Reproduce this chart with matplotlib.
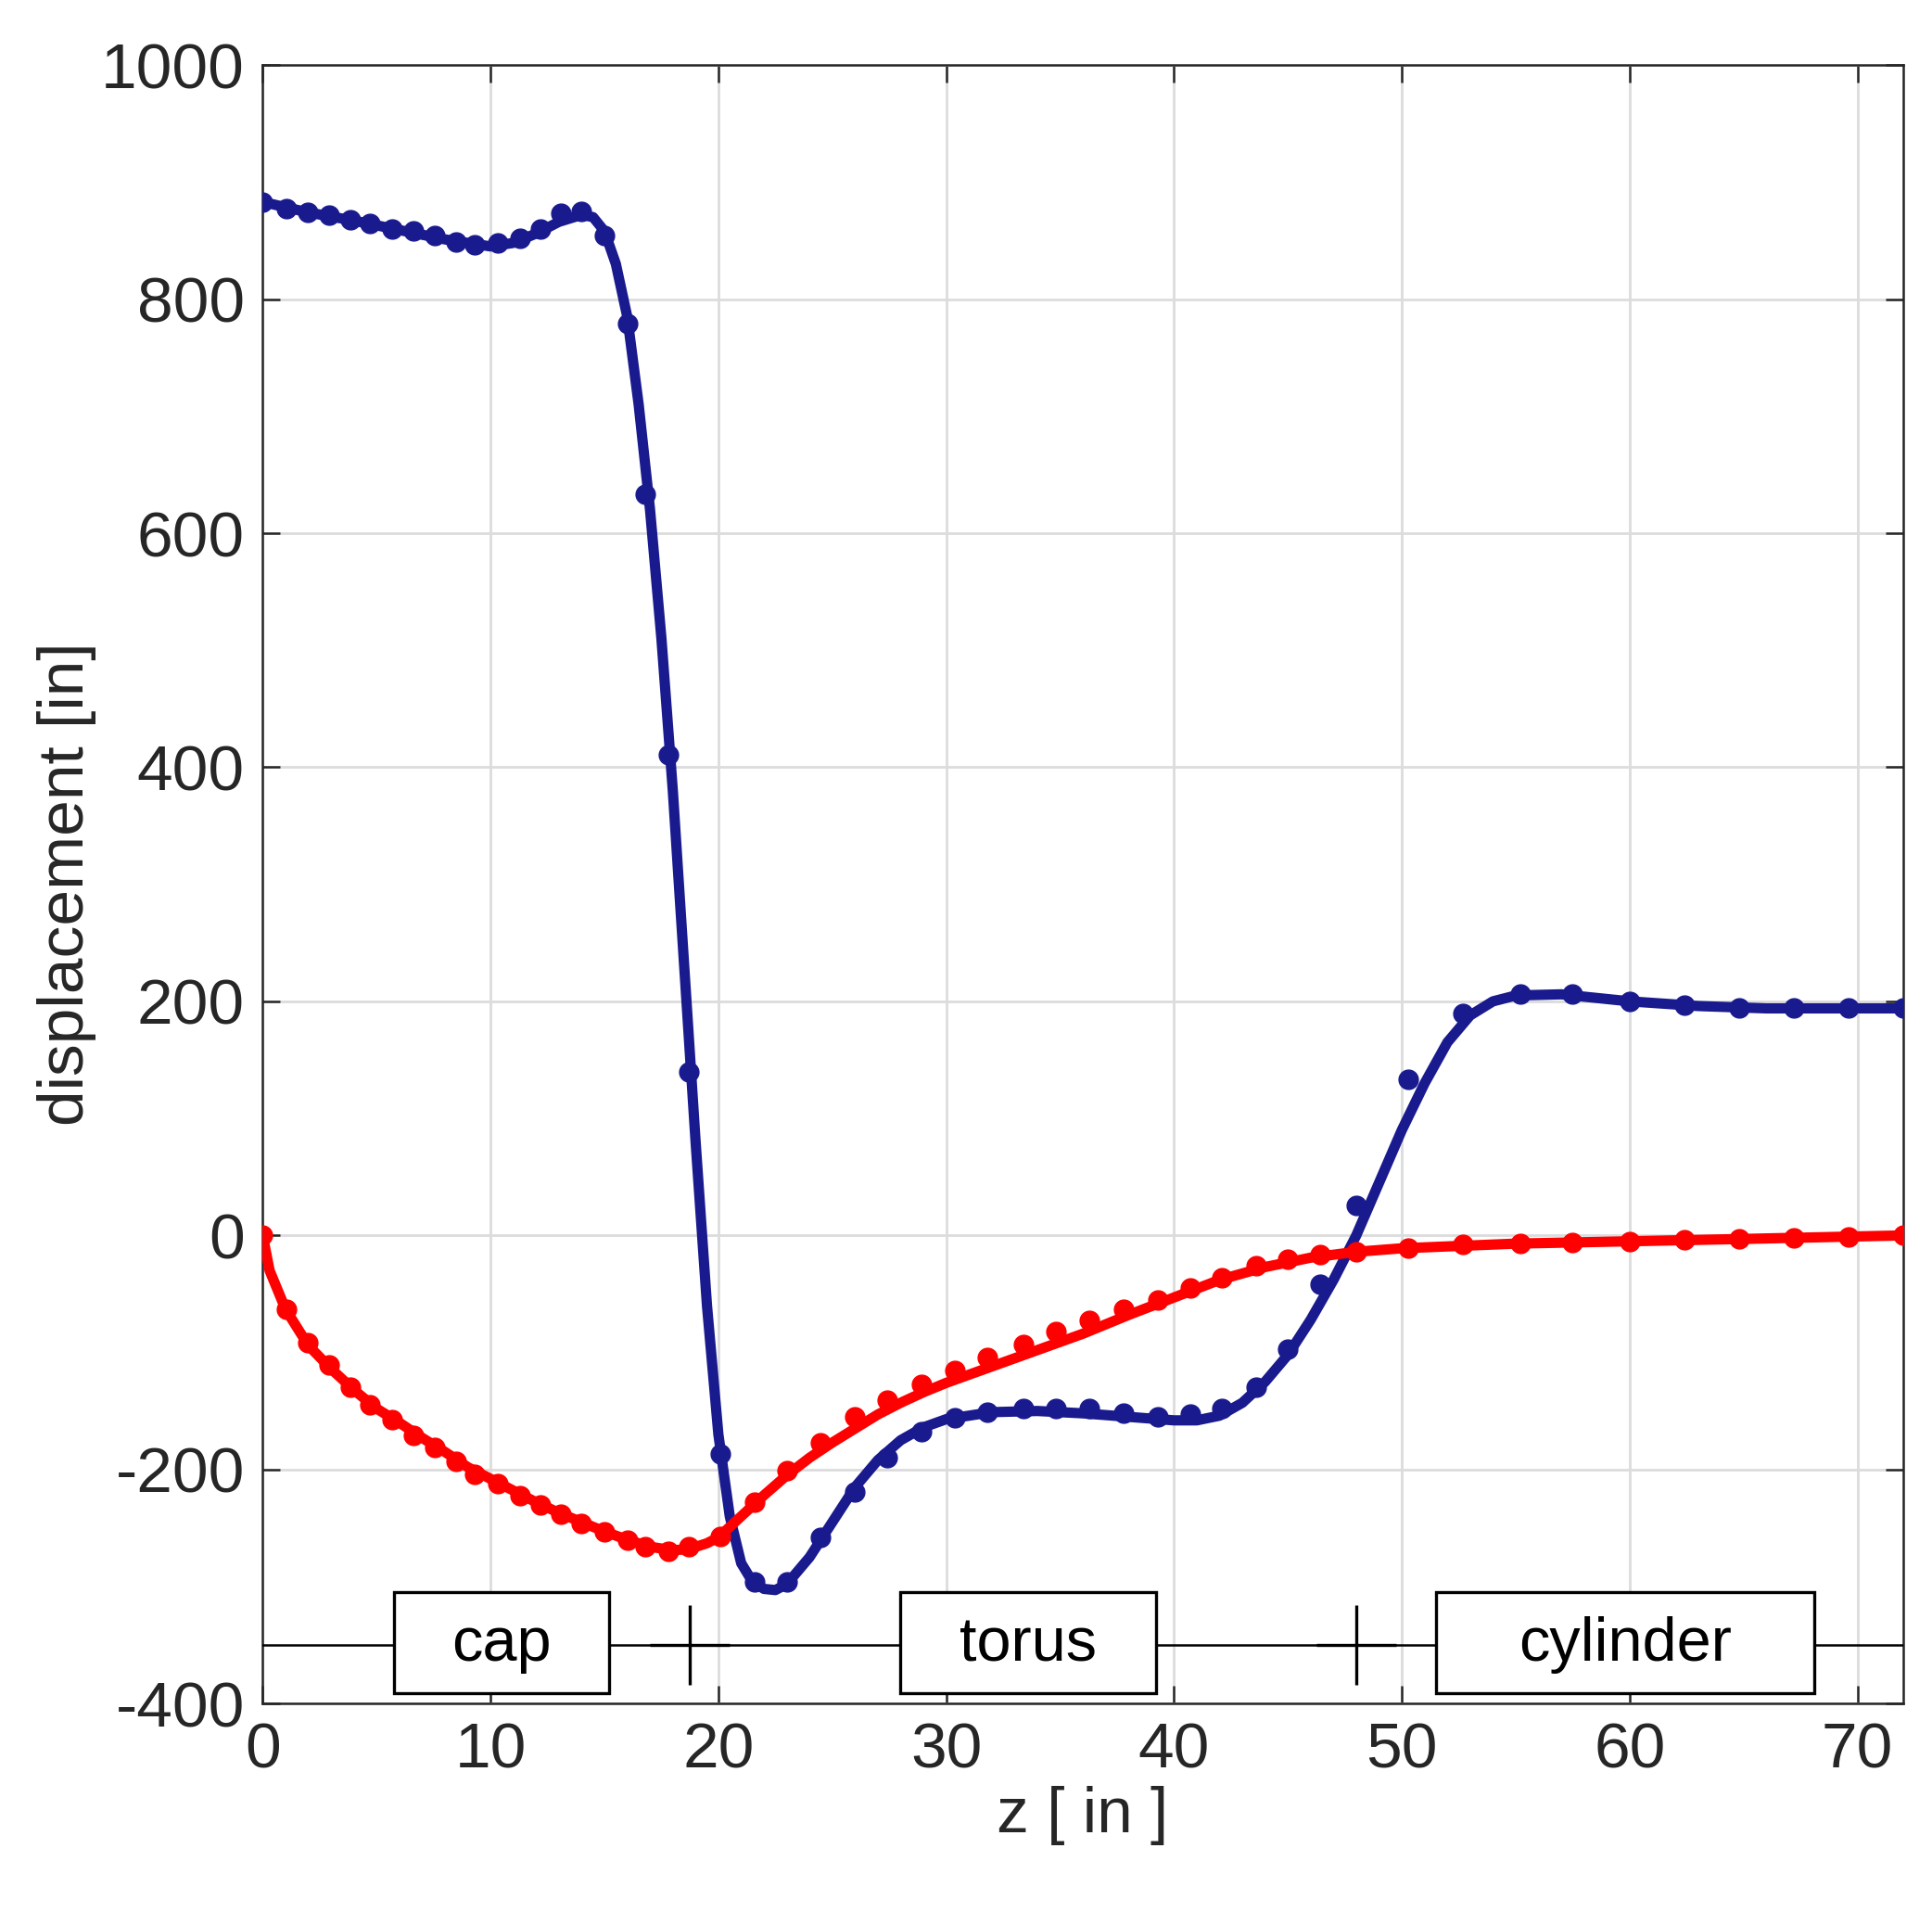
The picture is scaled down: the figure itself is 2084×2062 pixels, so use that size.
import matplotlib.pyplot as plt
import numpy as np

plt.rcParams['font.family'] = ['Liberation Sans', 'DejaVu Sans']
plt.rcParams['axes.unicode_minus'] = False

# blue series: measured dots
blue_dot_z = [0, 1.03, 1.96, 2.9, 3.86, 4.7, 5.7, 6.6, 7.55, 8.5, 9.3, 10.3, 11.3, 12.2, 13.1, 14, 15, 16, 16.8,
              17.8, 18.7, 20.1, 21.6, 23, 24.5, 26, 27.4, 28.9, 30.4, 31.8, 33.4, 34.8, 36.3, 37.8, 39.3, 40.7, 42.1,
              43.6, 45, 46.4, 48, 50.3, 52.7, 55.2, 57.5, 60, 62.4, 64.8, 67.2, 69.6, 72]
blue_dot_u = [883, 877, 874, 872, 868, 865, 860, 858, 854, 849, 846, 848, 852, 860, 873, 875, 854, 779, 633,
              411, 140, -187, -296, -296, -258, -219, -190, -168, -156, -151, -148, -148, -148, -152, -155, -153, -148,
              -130, -97, -42, 26, 133, 190, 206, 206, 200, 197, 194, 194, 194, 194]
# blue series: solid curve
blue_line_z = [0, 2, 4, 6, 8, 10, 11, 12, 13, 14, 14.5, 15, 15.5, 16, 16.5, 17, 17.5, 18, 18.5, 19, 19.5, 20, 20.5,
               21, 21.5, 22, 22.5, 23, 24, 25, 26, 27, 28, 29, 30, 32, 34, 36, 38, 40, 41, 42, 43, 44, 45, 46, 47,
               48, 49, 50, 51, 52, 53, 54, 55, 57, 60, 63, 66, 72]
blue_line_u = [883, 874, 867, 859, 851, 845, 848, 856, 866, 872, 870, 858, 830, 785, 710, 620, 510, 380, 230, 80, -60,
               -170, -240, -280, -296, -302, -303, -298, -275, -245, -215, -192, -175, -164, -157, -151, -150, -152,
               -155, -158, -158, -154, -143, -125, -102, -72, -38, 0, 45, 90, 130, 165, 188, 200, 205, 206, 200, 196,
               194, 194]

# red series
red_dot_z = blue_dot_z
red_dot_u = [0, -63, -92, -111, -130, -145, -157, -171, -181, -193, -204, -212, -222, -230, -238, -246, -253, -260,
             -266, -270, -266, -257, -228, -201, -177, -155, -141, -127, -115, -104, -93, -82, -73, -63, -55, -45, -36,
             -26, -20, -16, -14, -11, -8, -7, -6, -5, -4, -3, -2, -1, 0]
red_line_z = [0, 0.3, 1, 2, 3, 4, 5, 6, 7, 8, 9, 10, 11, 12, 13, 14, 15, 16, 17, 18, 18.7, 19.5, 20, 21, 22, 23, 24,
              25, 26, 27, 28, 29, 30, 32, 34, 36, 38, 40, 42, 44, 46, 48, 50, 55, 60, 65, 72]
red_line_u = [0, -30, -63, -94, -114, -132, -148, -160, -173, -185, -198, -208, -218, -228, -237, -245, -253, -260,
              -266, -269, -268, -263, -258, -240, -222, -205, -190, -177, -165, -153, -143, -134, -126, -112, -98,
              -84, -68, -53, -38, -27, -19, -14, -11, -7, -5, -3, 0]

# segment labels
seg_names = ['cap', 'torus', 'cylinder']
seg_left = [5.75, 28.0, 51.5]
seg_right = [15.2, 39.2, 68.1]
joint_z = [18.75, 48.0]
bar_u = -350

navy = '#1a1a8f'
red = '#ff0000'

fig = plt.figure(figsize=(20.84, 20.62), dpi=100)
ax = fig.add_axes([0.136, 0.109, 0.849, 0.857])

ax.plot(blue_line_z, blue_line_u, color=navy, lw=8, zorder=3)
ax.plot(blue_dot_z, blue_dot_u, 'o', color=navy, ms=15, zorder=4)
ax.plot(red_line_z, red_line_u, color=red, lw=8, zorder=3)
ax.plot(red_dot_z, red_dot_u, 'o', color=red, ms=15, zorder=4)

ax.axhline(bar_u, color='black', lw=1.8, zorder=5)
ax.plot(joint_z, [bar_u] * len(joint_z), '+', color='black', ms=62, mew=2.4, zorder=5)
for name, l, r in zip(seg_names, seg_left, seg_right):
    ax.add_patch(plt.Rectangle((l, -391), r - l, 86, fc='white', ec='black', lw=2.4, zorder=5))
    ax.text((l + r) / 2, bar_u, name, ha='center', va='center', fontsize=48, zorder=6)

ax.set_xlim(0, 72)
ax.set_ylim(-400, 1000)
ax.set_xticks(np.arange(0, 71, 10))
ax.set_yticks(np.arange(-400, 1001, 200))
ax.grid(True, color='#dcdcdc', lw=2)
ax.set_axisbelow(True)
ax.tick_params(direction='in', top=True, right=True, length=14, width=1.8, labelsize=50, pad=14,
               colors='#262626', labelcolor='#262626')
for s in ax.spines.values():
    s.set_linewidth(1.8)
    s.set_color('#262626')
ax.set_xlabel('z [ in ]', fontsize=50, color='#262626')
ax.set_ylabel('displacement [in]', fontsize=50, color='#262626')

fig.savefig('out.png', dpi=100)
